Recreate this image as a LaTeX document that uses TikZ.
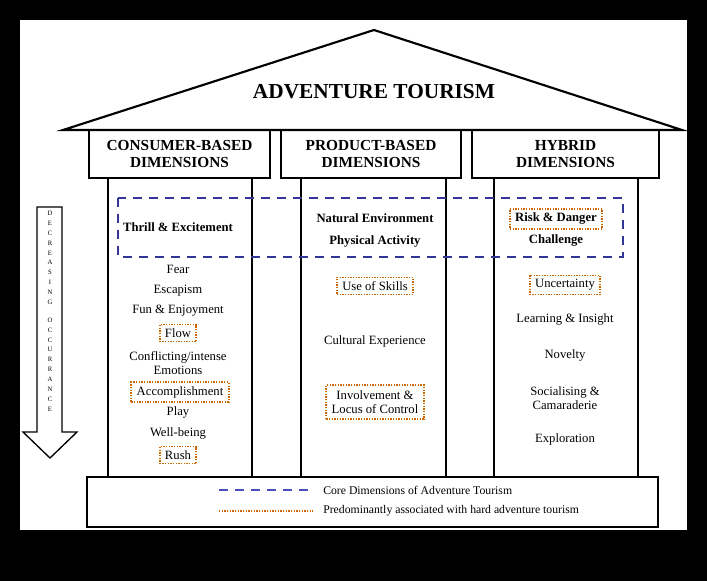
\documentclass[tikz,border=0pt]{standalone}
\usepackage{fontspec}
\setmainfont{Liberation Serif}
\begin{document}
\begin{tikzpicture}[x=0.75pt,y=-0.75pt,
  ln/.style={line width=1.6pt},
  core/.style={draw=blue!50!black!80,dashed,line width=1.4pt,dash pattern=on 7pt off 5pt},
  hard/.style={draw=orange!80!black,line width=1.4pt,dash pattern=on 1pt off 1pt},
  itm/.style={font=\fontsize{9.5}{11}\selectfont,align=center,inner sep=0pt},
  bitm/.style={itm,font=\fontsize{9.5}{11}\selectfont\bfseries},
  hdr/.style={font=\fontsize{11.5}{12.5}\selectfont\bfseries,align=center},
  hb/.style={itm,hard,inner xsep=4pt,inner ysep=3pt}]
\fill[black] (0,0) rectangle (707,581);
\fill[white] (20,20) rectangle (687,530);
\useasboundingbox (0,0) rectangle (707,581);
% roof
\draw[ln,line join=miter] (63,130) -- (374,30) -- (682,130) -- cycle;
\node[font=\fontsize{16}{18}\selectfont\bfseries] (title) at (374,92) {ADVENTURE TOURISM};
% headers
\draw[ln] (89,130) rectangle (270,178); \node[hdr] (h1) at (179.5,154) {CONSUMER-BASED\\DIMENSIONS};
\draw[ln] (281,130) rectangle (461,178); \node[hdr] (h2) at (371,154) {PRODUCT-BASED\\DIMENSIONS};
\draw[ln] (472,130) rectangle (659,178); \node[hdr] (h3) at (565.5,154) {HYBRID\\DIMENSIONS};
% pillars
\draw[ln] (108,178) -- (108,477) (252,178) -- (252,477);
\draw[ln] (301,178) -- (301,477) (446,178) -- (446,477);
\draw[ln] (494,178) -- (494,477) (638,178) -- (638,477);
\draw[ln] (87,477) rectangle (658,527);
% core rectangle
\draw[core] (118,198) rectangle (623,257);
\node[bitm] (te) at (178,227) {Thrill \& Excitement};
\node[bitm] (ne) at (375,218) {Natural Environment};
\node[bitm] (pa) at (375,241) {Physical Activity};
\node[bitm,hard,inner xsep=4pt,inner ysep=3pt] (rd) at (556,219) {Risk \& Danger};
\node[bitm] (ch) at (556,241) {Challenge};
% left column
\node[itm] (fear) at (178,269) {Fear};
\node[itm] (esc) at (178,291) {Escapism};
\node[itm] (fun) at (178,311) {Fun \& Enjoyment};
\node[hb] (flow) at (178,333) {Flow};
\node[itm] (conf) at (178,363) {Conflicting/intense\\Emotions};
\node[hb] (acc) at (180,392) {Accomplishment};
\node[itm] (play) at (178,412) {Play};
\node[itm] (wb) at (178,433) {Well-being};
\node[hb] (rush) at (178,455) {Rush};
% middle column
\node[hb] (skills) at (375,286) {Use of Skills};
\node[itm] (cult) at (375,341) {Cultural Experience};
\node[hb,inner ysep=4pt] (inv) at (375,402) {Involvement \&\\Locus of Control};
% right column
\node[hb] (unc) at (565,285) {Uncertainty};
\node[itm] (learn) at (565,319) {Learning \& Insight};
\node[itm] (nov) at (565,355) {Novelty};
\node[itm] (soc) at (565,398) {Socialising \&\\Camaraderie};
\node[itm] (expl) at (565,439) {Exploration};
% legend
\coordinate (l1a) at (219,490); \coordinate (l1b) at (313,490);
\coordinate (l2a) at (219,511); \coordinate (l2b) at (313,511);
\draw[core,draw=blue!60!black!70] (l1a) -- (l1b);
\draw[hard] (l2a) -- (l2b);
\node[itm,anchor=west,font=\fontsize{8.8}{10}\selectfont] (lt1) at (323,490) {Core Dimensions of Adventure Tourism};
\node[itm,anchor=west,font=\fontsize{8.8}{10}\selectfont] (lt2) at (323,511) {Predominantly associated with hard adventure tourism};
% arrow
\draw[line width=1pt,line join=miter] (37,207) -- (62,207) -- (62,432) -- (77,432) -- (50,458) -- (23,432) -- (37,432) -- cycle;
\node[font=\fontsize{5}{7.4}\selectfont,align=center,anchor=north,inner sep=0pt] (arr) at (50,211)
 {D\\E\\C\\R\\E\\A\\S\\I\\N\\G\\[6pt]O\\C\\C\\U\\R\\R\\A\\N\\C\\E};
\end{tikzpicture}
\end{document}
